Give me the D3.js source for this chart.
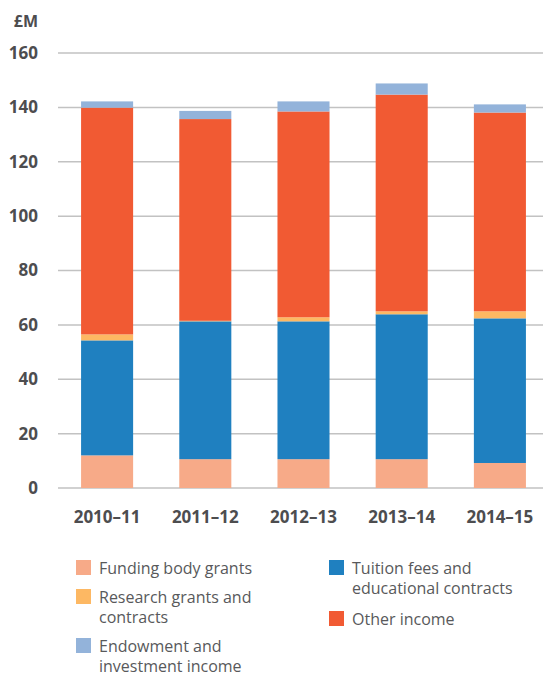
<!DOCTYPE html>
<html>
<head>
<meta charset="utf-8">
<script src="https://cdn.jsdelivr.net/npm/d3@7"></script>
<style>
  body { margin: 0; background: #fff; }
  svg text { font-family: "Open Sans", "Noto Sans", sans-serif; }
</style>
</head>
<body>
<div id="chart"></div>
<script>
// years along the bottom
const years = ['2010–11', '2011–12', '2012–13', '2013–14', '2014–15'];

// income by source, £M (bottom to top)
const fundingBody = [12.0, 10.6, 10.6, 10.6, 9.2];
const tuitionFees = [42.3, 50.7, 50.7, 53.3, 53.2];
const researchGrants = [2.2, 0.2, 1.5, 1.1, 2.6];
const otherIncome = [83.4, 74.2, 75.7, 79.7, 73.1];
const endowment = [2.3, 3.0, 3.7, 4.1, 3.0];

const yTicks = [0, 20, 40, 60, 80, 100, 120, 140, 160];

const seriesKeys = ['funding', 'tuition', 'research', 'other', 'endowment'];
const seriesColors = ['#f7aa88', '#1f80c0', '#fdb863', '#f15a33', '#93b3da'];

const W = 543, H = 677;
const margin = { left: 58, top: 53, bottom: 488 };

// table for d3.stack
const table = years.map((y, i) => ({
    year: y,
    funding: fundingBody[i],
    tuition: tuitionFees[i],
    research: researchGrants[i],
    other: otherIncome[i],
    endowment: endowment[i]
}));

const svg = d3.select('#chart').append('svg')
    .attr('width', W)
    .attr('height', H);

const x = d3.scaleBand()
    .domain(years)
    .range([margin.left, 549])
    .paddingInner(0.47)
    .paddingOuter(0.235);

const y = d3.scaleLinear()
    .domain([0, 160])
    .range([margin.bottom, margin.top]);

const color = d3.scaleOrdinal()
    .domain(seriesKeys)
    .range(seriesColors);

// gridlines
svg.append('g')
    .selectAll('line')
    .data(yTicks)
    .join('line')
    .attr('x1', margin.left)
    .attr('x2', W)
    .attr('y1', d => y(d))
    .attr('y2', d => y(d))
    .attr('stroke', '#c2c2c2')
    .attr('stroke-width', 1.5);

// y tick labels
svg.append('g')
    .selectAll('text')
    .data(yTicks)
    .join('text')
    .attr('x', 38)
    .attr('y', d => y(d))
    .attr('dy', '0.35em')
    .attr('text-anchor', 'end')
    .attr('font-size', 17)
    .attr('font-weight', 700)
    .attr('fill', '#4d4d4f')
    .text(d => d);

svg.append('text')
    .attr('x', 38)
    .attr('y', 21)
    .attr('dy', '0.35em')
    .attr('text-anchor', 'end')
    .attr('font-size', 16)
    .attr('font-weight', 700)
    .attr('fill', '#4d4d4f')
    .text('£M');

// stacked bars
const stacked = d3.stack().keys(seriesKeys)(table);

svg.append('g')
    .selectAll('g')
    .data(stacked)
    .join('g')
    .attr('fill', d => color(d.key))
    .selectAll('rect')
    .data(d => d)
    .join('rect')
    .attr('x', d => x(d.data.year))
    .attr('width', x.bandwidth())
    .attr('y', d => y(d[1]))
    .attr('height', d => y(d[0]) - y(d[1]));

// x labels
svg.append('g')
    .selectAll('text')
    .data(years)
    .join('text')
    .attr('x', d => x(d) + x.bandwidth() / 2)
    .attr('y', 517)
    .attr('dy', '0.35em')
    .attr('text-anchor', 'middle')
    .attr('font-size', 17)
    .attr('font-weight', 700)
    .attr('fill', '#4d4d4f')
    .text(d => d);

// legend
const legendItems = [
    { key: 'funding', lines: ['Funding body grants'], x: 76, y: 560 },
    { key: 'research', lines: ['Research grants and', 'contracts'], x: 76, y: 589 },
    { key: 'endowment', lines: ['Endowment and', 'investment income'], x: 76, y: 638 },
    { key: 'tuition', lines: ['Tuition fees and', 'educational contracts'], x: 329, y: 560 },
    { key: 'other', lines: ['Other income'], x: 329, y: 611 }
];

const lg = svg.append('g')
    .selectAll('g')
    .data(legendItems)
    .join('g')
    .attr('transform', d => `translate(${d.x} ${d.y})`);

lg.append('rect')
    .attr('width', 15)
    .attr('height', 15)
    .attr('fill', d => color(d.key));

lg.append('text')
    .attr('x', 23)
    .attr('y', 8)
    .attr('font-size', 16)
    .attr('fill', '#58595b')
    .selectAll('tspan')
    .data(d => d.lines)
    .join('tspan')
    .attr('x', 23)
    .attr('dy', (d, i) => i === 0 ? '0.35em' : 20)
    .text(d => d);
</script>
</body>
</html>
